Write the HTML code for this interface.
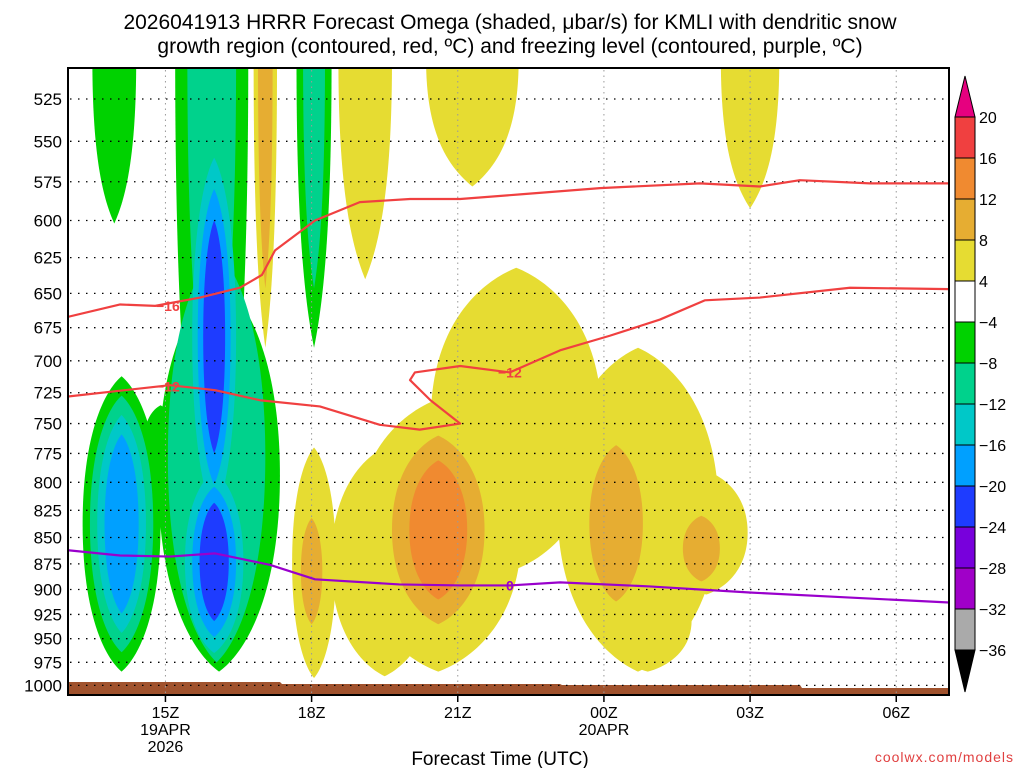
<!DOCTYPE html>
<html><head><meta charset="utf-8"><style>
body{margin:0;background:#fff;}
svg{display:block;font-family:"Liberation Sans",sans-serif;}
</style></head><body>
<svg id="chart" width="1024" height="768" viewBox="0 0 1024 768">
<text x="510" y="29" text-anchor="middle" font-size="21">2026041913 HRRR Forecast Omega (shaded, μbar/s) for KMLI with dendritic snow</text>
<text x="510" y="53" text-anchor="middle" font-size="21">growth region (contoured, red, ºC) and freezing level (contoured, purple, ºC)</text>
<defs><clipPath id="pc"><rect x="68" y="68" width="881" height="627"/></clipPath></defs>
<g id="shade" clip-path="url(#pc)"></g>
<g id="grid"></g>
<g id="lines" clip-path="url(#pc)"></g>
<rect x="68" y="68" width="881" height="627" fill="none" stroke="#000" stroke-width="2"/>
<g id="axes"></g>
<g id="cbar"></g>
<text x="500" y="765" text-anchor="middle" font-size="19">Forecast Time (UTC)</text>
<text x="1014" y="762" text-anchor="end" font-size="14" fill="#e04040" letter-spacing="1">coolwx.com/models</text>
</svg>
<script>
// ---- data ----
const pressureTicks=[525,550,575,600,625,650,675,700,725,750,775,800,825,850,875,900,925,950,975,1000];
const timeTickHours=[15,18,21,24,27,30];
const timeTickLabels=[["15Z","19APR","2026"],["18Z"],["21Z"],["00Z","20APR"],["03Z"],["06Z"]];
// omega blobs: center hour, top pressure (<=505 means open at plot top), bottom pressure, half-width (hours), start level, end level
const blobHour=[13.95,15.95,16.1,15.95,16.05,14.9,16.0,16.0,14.1,18.05,17.05,19.1,21.3,27.0,18.05,20.6,22.2,19.5,24.7,26.1,24.9,20.6,18.0,24.25,26.0];
const blobTop=[500,500,640,500,620,735,560,790,712,500,500,500,500,500,770,730,632,770,690,790,880,760,832,768,830];
const blobBottom=[602,900,985,760,975,800,830,965,985,690,690,640,578,592,992,985,880,990,985,905,985,935,935,912,892];
const blobHalfWidth=[0.45,0.75,1.25,0.5,1.0,0.35,0.45,0.6,0.8,0.36,0.24,0.55,0.95,0.6,0.45,1.7,1.75,1.1,1.65,0.85,0.9,0.95,0.22,0.55,0.38];
const blobStart=[-1,-1,-1,-2,-2,-1,-3,-3,-1,-1,1,1,1,1,1,1,1,1,1,1,1,2,2,2,2];
const blobEnd=[-1,-1,-1,-2,-2,-1,-5,-5,-4,-2,2,1,1,1,1,1,1,1,1,1,1,3,2,2,2];
// -16 C isotherm
const isoM16Hour=[13,14.07,14.79,15.71,16.53,16.98,17.25,18.07,18.99,20.02,21.05,22.28,23.92,25.97,27.2,28.02,29.46,31.1];
const isoM16Pres=[667,658,659,653,646,637,620,600,588,586,586,583,579,576,578,574,576,576];
// -12 C isotherm
const isoM12Hour=[13,15.09,16.02,16.94,18.17,18.99,19.4,20.22,21.05,20.44,20.02,20.12,21.05,22.07,23.1,24.12,25.15,26.07,27.2,29.05,31.1];
const isoM12Pres=[728,719,723,731,736,746,751,755,750,731,715,709,704,709,692,681,669,655,653,646,647];
// 0 C freezing level
const iso0Hour=[13,14.07,15.09,16.02,17.15,18.07,19.8,21.05,22.07,23.1,24.94,26.99,29.05,31.1];
const iso0Pres=[862,867,868,865,876,890,895,896,896,893,897,903,908,913];
const cbarLabels=["20","16","12","8","4","−4","−8","−12","−16","−20","−24","−28","−32","−36"];
// ---- scales ----
const X=h=>68+(h-13)*48.72;
const Y=p=>99+910*Math.log(p/525);
const NS="http://www.w3.org/2000/svg";
function mk(tag,parent,attrs){const e=document.createElementNS(NS,tag);for(const k in attrs)e.setAttribute(k,attrs[k]);parent.appendChild(e);return e;}
const posCol={1:"#e6dc32",2:"#e6ad32",3:"#f08a30",4:"#f04040"};
const negCol={1:"#00d200",2:"#00d28c",3:"#00c8c8",4:"#00a0ff",5:"#1e3cff",6:"#7800dc"};
const shade=document.getElementById('shade');
const shapes=[];
for(let i=0;i<blobHour.length;i++){
  const s=Math.sign(blobStart[i]),a=Math.abs(blobStart[i]),b=Math.abs(blobEnd[i]);
  for(let k=a;k<=b;k++){shapes.push({i,k,s,f:1-0.75*(k-a)/(b-a+1)});}
}
shapes.sort((p,q)=>p.k-q.k);
shapes.forEach(o=>{
  const i=o.i,cx=X(blobHour[i]),w=blobHalfWidth[i]*48.72*o.f;
  let d;
  if(blobTop[i]<=505){
    const yb0=Y(blobBottom[i]),H0=yb0-60,yb=60+H0*(0.45+0.55*o.f),H=yb-60;
    d=`M${cx-w},60 L${cx+w},60 C${cx+w},${60+0.6*H} ${cx+0.5*w},${yb-0.15*H} ${cx},${yb} C${cx-0.5*w},${yb-0.15*H} ${cx-w},${60+0.6*H} ${cx-w},60Z`;
  } else {
    const yt0=Y(blobTop[i]),yb0=Y(blobBottom[i]),ym=(yt0+yb0)/2;
    const H=(yb0-yt0)*(0.3+0.7*o.f),yt=ym-H/2,yb=ym+H/2;
    d=`M${cx},${yt} C${cx+0.45*w},${yt+0.05*H} ${cx+w},${ym-0.3*H} ${cx+w},${ym} C${cx+w},${ym+0.3*H} ${cx+0.45*w},${yb-0.05*H} ${cx},${yb} C${cx-0.45*w},${yb-0.05*H} ${cx-w},${ym+0.3*H} ${cx-w},${ym} C${cx-w},${ym-0.3*H} ${cx-0.45*w},${yt+0.05*H} ${cx},${yt}Z`;
  }
  const e=mk('path',shade,{d,fill:(o.s>0?posCol:negCol)[o.k]});
  
  
});
// ground
const gr=mk('path',shade,{d:"M68,682 L280,682 L282,684 L560,684 L562,685 L800,685 L802,688 L949,688 L949,696 L68,696Z",fill:"#a0522d"});


// grid + axes
const grid=document.getElementById('grid'),axes=document.getElementById('axes');
pressureTicks.forEach(p=>{
  const y=Y(p);
  const l=mk('line',grid,{x1:70,x2:947,y1:y,y2:y,stroke:"#000","stroke-width":1.3,"stroke-dasharray":"1.5 6.5"});
  
  
  const t=mk('text',axes,{x:62,y:y+6,"text-anchor":"end","font-size":17});
  t.textContent=p;
  
  
});
timeTickHours.forEach((h,j)=>{
  const x=X(h);
  const l=mk('line',grid,{x1:x,x2:x,y1:70,y2:693,stroke:"#999","stroke-width":1,"stroke-dasharray":"1.5 4"});
  
  
  mk('line',axes,{x1:x,x2:x,y1:695,y2:702,stroke:"#000","stroke-width":1.5});
  timeTickLabels[j].forEach((s,r)=>{
    const t=mk('text',axes,{x:x,y:718+r*17,"text-anchor":"middle","font-size":16});
    t.textContent=s;
    
    
  });
});
// contour lines
const lines=document.getElementById('lines');
function drawLine(hs,ps,col,name){
  const pts=hs.map((h,i)=>X(h)+","+Y(ps[i])).join(" ");
  const e=mk('polyline',lines,{points:pts,fill:"none",stroke:col,"stroke-width":2.2,"stroke-linejoin":"round"});
  
  
}
drawLine(isoM16Hour,isoM16Pres,"#f04040","isotherm-minus16");
drawLine(isoM12Hour,isoM12Pres,"#f04040","isotherm-minus12");
drawLine(iso0Hour,iso0Pres,"#9900cc","freezing-level");
function lbl(h,p,s,col){
  const x=X(h),y=Y(p);
  const t=mk('text',lines,{x:x,y:y+5,"text-anchor":"middle","font-size":14,"font-weight":"bold",fill:col});
  t.textContent=s;
  
  
}
lbl(15.05,659,"−16","#f04040");lbl(15.05,720,"−12","#f04040");lbl(22.07,709,"−12","#f04040");lbl(22.07,896,"0","#9900cc");
// colorbar
const cb=document.getElementById('cbar');
const cbCols=["#f04040","#f08a30","#e6ad32","#e6dc32","#ffffff","#00d200","#00d28c","#00c8c8","#00a0ff","#1e3cff","#7800dc","#a000c8","#aaaaaa"];
cbCols.forEach((c,i)=>{
  const r=mk('rect',cb,{x:955,y:117+i*41,width:20,height:41,fill:c,stroke:"#000","stroke-width":1});
  
  
});
mk('path',cb,{d:"M955,117 L965,76 L975,117Z",fill:"#e6007f",stroke:"#000","stroke-width":1});
mk('path',cb,{d:"M955,650 L965,692 L975,650Z",fill:"#000",stroke:"#000","stroke-width":1});
cbarLabels.forEach((s,i)=>{
  const t=mk('text',cb,{x:979,y:123+i*41,"font-size":16});
  t.textContent=s;
  
  
});
</script>
</body></html>
